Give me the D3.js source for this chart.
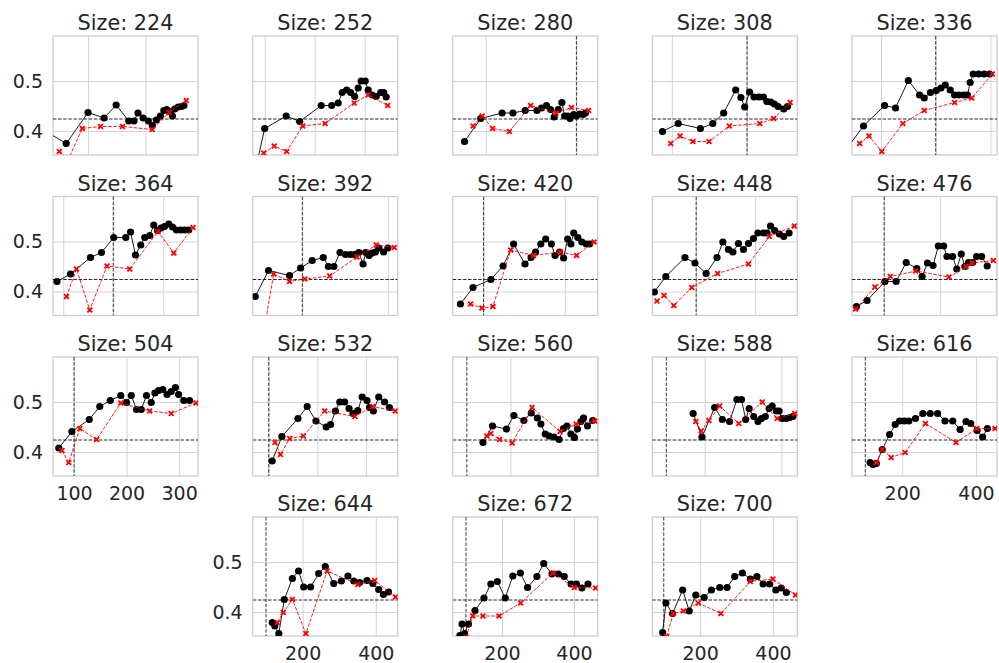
<!DOCTYPE html>
<html>
<head>
<meta charset="utf-8">
<script src="https://cdn.jsdelivr.net/npm/d3@7"></script>
<style>
  body { margin: 0; background: #fff; }
  svg text { font-family: "DejaVu Sans", sans-serif; fill: #262626; }
</style>
</head>
<body>
<div id="chart"></div>
<script>
// panel titles
const sizes = [224, 252, 280, 308, 336, 364, 392, 420, 448, 476, 504, 532, 560, 588, 616, 644, 672, 700]

// shared y axis
const yDomain = [0.352, 0.59]
const yTicks = [0.4, 0.5]
const baseline = 0.424

// per panel x limits, x ticks and the vertical marker
const xDomains = [
    [39, 291.5], [76, 366], [127, 447], [148, 534], [94, 624],
    [159, 739], [284, 623], [324, 681], [251, 744], [285, 804],
    [60, 336], [67, 365], [67.5, 400.5], [63.5, 441.5], [64, 457],
    [63.6, 460], [63, 466], [68.5, 467]
]
const xTicks = [
    [100, 200], [100, 200, 300], [200, 400], [200, 400], [200, 400, 600],
    [200, 400, 600], [400, 600], [400, 600], [400, 600], [400, 600, 800],
    [100, 200, 300], [100, 200, 300], [200, 400], [200, 400], [200, 400],
    [200, 400], [200, 400], [200, 400]
]
const cutoffs = [400, 400, 400, 400, 400, 400, 400, 400, 400, 400, 100, 100, 100, 100, 100, 100, 100, 100]

// black series (solid, dots)
const blackX = [
    [30, 62, 100, 128, 149, 171, 180, 187, 196, 205, 212, 219, 226, 232, 237, 242, 247, 251, 257, 263, 267],
    [85, 100, 143, 170, 213, 234, 247, 255, 264, 272, 280, 287, 293, 301, 307, 315, 323, 332, 338, 343],
    [153, 189, 236, 260, 287, 313, 323, 334, 343, 351, 360, 368, 374, 381, 386, 394, 400, 407, 415, 420],
    [175, 217, 276, 309, 338, 370, 384, 394, 407, 419, 432, 444, 453, 463, 473, 483, 498, 508],
    [78, 136, 213, 253, 300, 341, 358, 381, 402, 419, 435, 453, 469, 485, 503, 516, 526, 537, 557, 577, 597],
    [175, 229, 309, 353, 402, 450, 469, 489, 510, 526, 546, 562, 577, 591, 605, 622, 637, 653, 670, 686, 702],
    [290, 321, 370, 396, 423, 449, 461, 474, 488, 501, 512, 522, 532, 542, 548, 556, 563, 571, 579, 590, 600],
    [343, 374, 418, 448, 474, 502, 517, 528, 541, 553, 567, 576, 587, 597, 607, 615, 622, 632, 642, 653, 661],
    [258, 297, 362, 396, 434, 471, 491, 510, 525, 544, 561, 578, 595, 610, 629, 641, 653, 667, 683, 698, 716],
    [301, 339, 403, 443, 479, 517, 536, 555, 575, 594, 613, 625, 645, 660, 676, 689, 702, 717, 731, 749, 769],
    [71, 96, 129, 149, 169, 189, 200, 209, 219, 228, 238, 247, 254, 261, 269, 277, 285, 293, 299, 309, 320],
    [107, 127, 160, 179, 197, 218, 227, 237, 246, 256, 265, 273, 283, 292, 302, 307, 315, 326, 338, 348],
    [137, 159, 191, 208, 231, 248, 262, 270, 280, 289, 300, 312, 322, 330, 339, 347, 354, 362, 368, 377, 389],
    [170, 193, 226, 246, 265, 284, 296, 307, 316, 328, 339, 348, 358, 368, 376, 387, 394, 402, 413, 422, 430],
    [113, 121, 130, 146, 166, 181, 193, 206, 218, 236, 256, 276, 296, 316, 337, 357, 373, 386, 403, 418, 431],
    [117, 124, 135, 150, 172, 189, 203, 222, 244, 262, 285, 306, 324, 340, 356, 376, 392, 408, 421, 435],
    [83, 89, 96, 107, 125, 150, 169, 187, 209, 230, 251, 271, 297, 316, 339, 357, 373, 392, 407, 422, 439],
    [97, 106, 124, 152, 170, 188, 211, 231, 254, 274, 295, 316, 338, 356, 373, 391, 408, 423, 437]
]
const blackY = [
    [0.397, 0.375, 0.437, 0.426, 0.452, 0.420, 0.420, 0.436, 0.426, 0.420, 0.411, 0.422, 0.430, 0.441, 0.443, 0.439, 0.430, 0.444, 0.448, 0.449, 0.451],
    [0.338, 0.405, 0.430, 0.419, 0.451, 0.451, 0.456, 0.477, 0.482, 0.477, 0.469, 0.486, 0.500, 0.500, 0.482, 0.472, 0.469, 0.477, 0.477, 0.468],
    [0.379, 0.425, 0.436, 0.436, 0.441, 0.441, 0.446, 0.451, 0.443, 0.428, 0.443, 0.457, 0.430, 0.430, 0.425, 0.433, 0.430, 0.434, 0.433, 0.436],
    [0.399, 0.415, 0.405, 0.415, 0.436, 0.482, 0.467, 0.448, 0.478, 0.468, 0.468, 0.468, 0.459, 0.458, 0.454, 0.449, 0.444, 0.449],
    [0.367, 0.410, 0.451, 0.446, 0.501, 0.472, 0.466, 0.477, 0.481, 0.486, 0.492, 0.482, 0.472, 0.472, 0.472, 0.472, 0.497, 0.514, 0.514, 0.514, 0.514],
    [0.420, 0.435, 0.468, 0.478, 0.508, 0.508, 0.519, 0.473, 0.493, 0.508, 0.512, 0.533, 0.522, 0.527, 0.530, 0.535, 0.529, 0.523, 0.523, 0.523, 0.523],
    [0.390, 0.442, 0.432, 0.447, 0.462, 0.468, 0.450, 0.450, 0.478, 0.474, 0.474, 0.474, 0.478, 0.455, 0.478, 0.472, 0.477, 0.479, 0.487, 0.479, 0.487],
    [0.375, 0.408, 0.424, 0.451, 0.495, 0.455, 0.468, 0.479, 0.495, 0.505, 0.495, 0.472, 0.479, 0.467, 0.505, 0.495, 0.517, 0.508, 0.499, 0.495, 0.495],
    [0.399, 0.430, 0.468, 0.457, 0.436, 0.468, 0.499, 0.484, 0.479, 0.496, 0.484, 0.496, 0.506, 0.517, 0.517, 0.517, 0.531, 0.522, 0.515, 0.510, 0.517],
    [0.370, 0.382, 0.420, 0.420, 0.458, 0.446, 0.430, 0.457, 0.452, 0.491, 0.491, 0.470, 0.470, 0.445, 0.475, 0.450, 0.458, 0.458, 0.470, 0.470, 0.451],
    [0.408, 0.441, 0.465, 0.491, 0.503, 0.513, 0.499, 0.513, 0.485, 0.485, 0.513, 0.499, 0.518, 0.523, 0.525, 0.515, 0.521, 0.529, 0.515, 0.503, 0.503],
    [0.382, 0.431, 0.467, 0.491, 0.462, 0.450, 0.455, 0.482, 0.500, 0.500, 0.487, 0.477, 0.483, 0.510, 0.503, 0.489, 0.482, 0.510, 0.500, 0.489],
    [0.419, 0.452, 0.446, 0.473, 0.463, 0.478, 0.468, 0.456, 0.436, 0.432, 0.430, 0.425, 0.447, 0.452, 0.436, 0.429, 0.446, 0.461, 0.468, 0.452, 0.463],
    [0.477, 0.430, 0.489, 0.465, 0.461, 0.505, 0.505, 0.465, 0.487, 0.471, 0.461, 0.467, 0.471, 0.487, 0.492, 0.482, 0.482, 0.467, 0.467, 0.469, 0.471],
    [0.379, 0.375, 0.377, 0.405, 0.435, 0.455, 0.462, 0.462, 0.462, 0.467, 0.477, 0.477, 0.477, 0.462, 0.462, 0.445, 0.461, 0.457, 0.443, 0.430, 0.447],
    [0.379, 0.372, 0.357, 0.425, 0.467, 0.482, 0.450, 0.450, 0.477, 0.491, 0.457, 0.462, 0.472, 0.462, 0.459, 0.463, 0.457, 0.445, 0.435, 0.440],
    [0.353, 0.376, 0.357, 0.376, 0.403, 0.428, 0.456, 0.461, 0.428, 0.472, 0.478, 0.449, 0.471, 0.497, 0.476, 0.476, 0.471, 0.456, 0.456, 0.448, 0.456],
    [0.359, 0.418, 0.397, 0.444, 0.402, 0.434, 0.429, 0.444, 0.449, 0.449, 0.471, 0.478, 0.466, 0.471, 0.456, 0.456, 0.444, 0.448, 0.439]
]

// red series (dashed, crosses)
const redX = [
    [50, 66, 90, 122, 160, 212, 241, 271],
    [98, 119, 144, 176, 221, 279, 307, 346],
    [172, 192, 215, 252, 299, 355, 389, 427],
    [197, 222, 256, 299, 353, 434, 471, 515],
    [122, 156, 203, 280, 358, 469, 532, 607],
    [213, 253, 306, 375, 466, 579, 642, 719],
    [313, 333, 370, 406, 464, 528, 573, 615],
    [368, 396, 423, 467, 523, 589, 629, 672],
    [267, 291, 324, 385, 473, 578, 649, 734],
    [298, 367, 422, 513, 632, 693, 715, 791],
    [77, 90, 111, 143, 189, 244, 285, 332],
    [113, 124, 143, 171, 215, 277, 314, 360],
    [146, 155, 175, 204, 250, 314, 351, 394],
    [177, 191, 211, 239, 289, 350, 389, 435],
    [130, 146, 170, 208, 263, 346, 402, 452],
    [131, 147, 172, 209, 267, 351, 397, 454],
    [100, 119, 147, 192, 252, 342, 401, 460],
    [108, 126, 154, 195, 257, 338, 400, 462]
]
const redY = [
    [0.359, 0.344, 0.405, 0.409, 0.409, 0.403, 0.437, 0.461],
    [0.356, 0.370, 0.359, 0.410, 0.415, 0.456, 0.472, 0.451],
    [0.410, 0.430, 0.405, 0.399, 0.451, 0.436, 0.447, 0.441],
    [0.375, 0.390, 0.379, 0.379, 0.410, 0.415, 0.425, 0.457],
    [0.375, 0.390, 0.359, 0.415, 0.441, 0.457, 0.466, 0.514],
    [0.390, 0.445, 0.363, 0.451, 0.445, 0.520, 0.477, 0.528],
    [0.335, 0.435, 0.420, 0.425, 0.431, 0.469, 0.493, 0.488],
    [0.375, 0.367, 0.370, 0.483, 0.472, 0.479, 0.472, 0.499],
    [0.381, 0.392, 0.372, 0.408, 0.436, 0.455, 0.510, 0.531],
    [0.365, 0.409, 0.430, 0.441, 0.429, 0.450, 0.457, 0.462],
    [0.403, 0.379, 0.447, 0.425, 0.498, 0.482, 0.477, 0.498],
    [0.419, 0.395, 0.427, 0.432, 0.482, 0.471, 0.491, 0.482],
    [0.432, 0.437, 0.425, 0.418, 0.489, 0.441, 0.456, 0.462],
    [0.461, 0.442, 0.463, 0.492, 0.457, 0.500, 0.467, 0.477],
    [0.379, 0.405, 0.389, 0.399, 0.457, 0.419, 0.447, 0.447],
    [0.379, 0.399, 0.425, 0.357, 0.482, 0.455, 0.463, 0.430],
    [0.349, 0.392, 0.392, 0.392, 0.418, 0.478, 0.449, 0.448],
    [0.351, 0.397, 0.402, 0.418, 0.397, 0.461, 0.466, 0.434]
]

const width = 999
const height = 663
const pw = 145
const ph = 119
const colLeft = [53, 252.7, 452.7, 652.3, 852]
const rowTop = [36, 196.5, 357, 517]

const svg = d3.select('#chart').append('svg')
    .attr('width', width)
    .attr('height', height)

function drawPanel(i) {
    const row = i < 15 ? Math.floor(i / 5) : 3
    const col = i < 15 ? i % 5 : i - 14
    const g = svg.append('g')
        .attr('transform', `translate(${colLeft[col]},${rowTop[row]})`)

    const x = d3.scaleLinear().domain(xDomains[i]).range([0, pw])
    const y = d3.scaleLinear().domain(yDomain).range([ph, 0])

    // only panels with nothing below / at the row start carry labels
    const showX = row === 3 || (row === 2 && (col === 0 || col === 4))
    const showY = col === 0 || (row === 3 && col === 1)

    const xAxis = d3.axisBottom(x)
        .tickValues(xTicks[i])
        .tickSize(-ph)
        .tickPadding(11)
        .tickFormat(showX ? d3.format('d') : () => '')
    const yAxis = d3.axisLeft(y)
        .tickValues(yTicks)
        .tickSize(-pw)
        .tickPadding(10)
        .tickFormat(showY ? d3.format('.1f') : () => '')

    g.append('g').attr('class', 'axis').attr('transform', `translate(0,${ph})`).call(xAxis)
    g.append('g').attr('class', 'axis').call(yAxis)
    g.selectAll('.axis .domain').remove()
    g.selectAll('.axis line').attr('stroke', '#d4d4d4').attr('stroke-width', 1)
    g.selectAll('.axis text')
        .attr('font-size', 19)
        .attr('font-family', 'DejaVu Sans')
        .attr('fill', '#262626')

    g.append('rect')
        .attr('width', pw)
        .attr('height', ph)
        .attr('fill', 'none')
        .attr('stroke', '#cccccc')
        .attr('stroke-width', 1.25)

    g.append('text')
        .text(`Size: ${sizes[i]}`)
        .attr('x', pw / 2)
        .attr('y', -6)
        .attr('text-anchor', 'middle')
        .attr('font-size', 20.8)

    const clipId = 'clip' + i
    g.append('clipPath').attr('id', clipId)
        .append('rect').attr('width', pw).attr('height', ph)
    const plot = g.append('g').attr('clip-path', `url(#${clipId})`)

    plot.append('line')
        .attr('x1', 0).attr('x2', pw)
        .attr('y1', y(baseline)).attr('y2', y(baseline))
        .attr('stroke', '#111')
        .attr('stroke-width', 0.9)
        .attr('stroke-dasharray', '3.5,1.6')

    plot.append('line')
        .attr('x1', x(cutoffs[i])).attr('x2', x(cutoffs[i]))
        .attr('y1', 0).attr('y2', ph)
        .attr('stroke', '#222')
        .attr('stroke-width', 0.9)
        .attr('stroke-dasharray', '3.5,1.6')

    const line = d3.line().x(d => x(d[0])).y(d => y(d[1]))
    const black = d3.zip(blackX[i], blackY[i])
    const red = d3.zip(redX[i], redY[i])

    plot.append('path')
        .datum(black)
        .attr('d', line)
        .attr('fill', 'none')
        .attr('stroke', '#000')
        .attr('stroke-width', 0.9)

    plot.selectAll('circle')
        .data(black)
        .enter()
        .append('circle')
        .attr('cx', d => x(d[0]))
        .attr('cy', d => y(d[1]))
        .attr('r', 3.6)
        .attr('fill', '#000')

    plot.append('path')
        .datum(red)
        .attr('d', line)
        .attr('fill', 'none')
        .attr('stroke', '#ff0000')
        .attr('stroke-width', 0.9)
        .attr('stroke-dasharray', '3.5,1.6')

    const cross = d3.symbol(d3.symbolX, 17)
    plot.selectAll('path.cross')
        .data(red)
        .enter()
        .append('path')
        .attr('class', 'cross')
        .attr('d', cross)
        .attr('transform', d => `translate(${x(d[0])},${y(d[1])})`)
        .attr('fill', 'none')
        .attr('stroke', '#ff0000')
        .attr('stroke-width', 1.9)
}

sizes.forEach((s, i) => drawPanel(i))
</script>
</body>
</html>
